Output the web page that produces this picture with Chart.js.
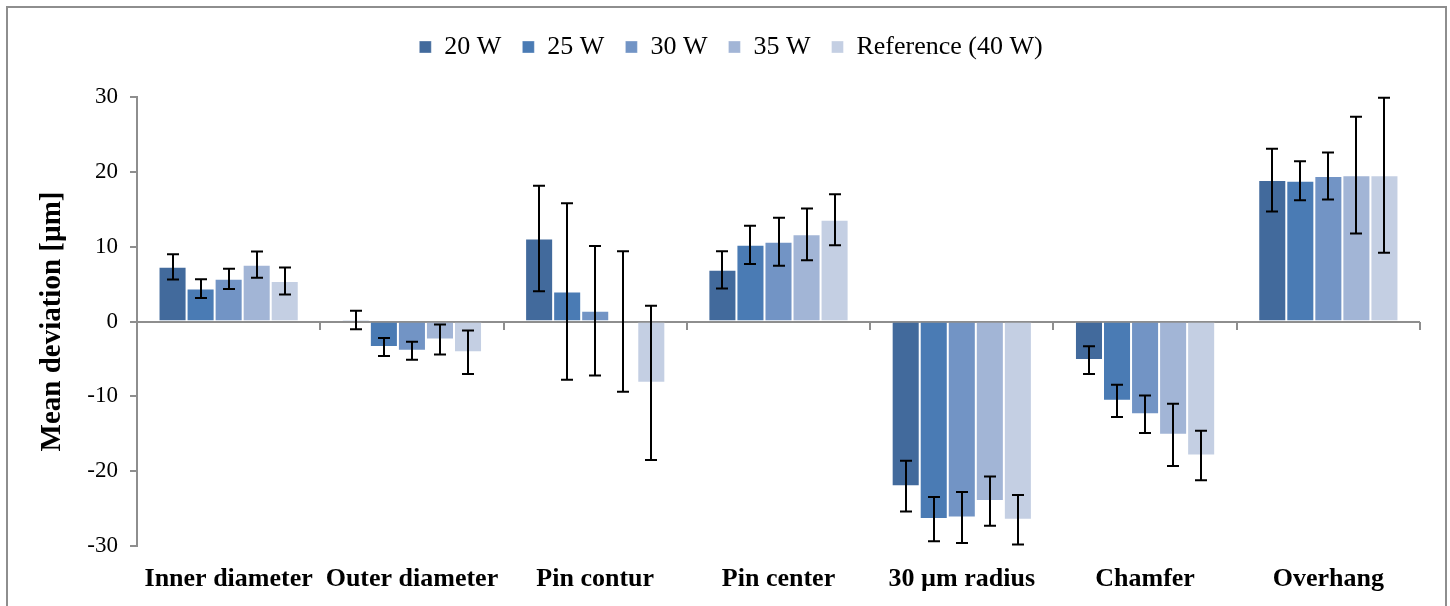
<!DOCTYPE html>
<html>
<head>
<meta charset="utf-8">
<script src="https://cdn.jsdelivr.net/npm/chart.js@4.4.1/dist/chart.umd.min.js"></script>
<style>
  html, body { margin: 0; padding: 0; background: #ffffff; overflow: hidden; }
  #frame { position: absolute; left: 6px; top: 6px; width: 1441px; height: 700px; border: 2px solid #8e8e8e; box-sizing: border-box; }
  #wrap { position: absolute; left: 0; top: 0; width: 1450px; height: 606px; }
</style>
</head>
<body>
<div id="frame"></div>
<div id="wrap"><canvas id="c" width="1450" height="606"></canvas></div>
<script>
const categories = ["Inner diameter", "Outer diameter", "Pin contur", "Pin center", "30 µm radius", "Chamfer", "Overhang"];
const seriesNames = ["20 W", "25 W", "30 W", "35 W", "Reference (40 W)"];
const seriesColors = ["#426a9c", "#4a7bb4", "#7294c5", "#a2b5d6", "#c4cfe3"];

const values20 = [7.3, 0.2, 11.1, 6.9, -22.0, -5.15, 18.9];
const values25 = [4.4, -3.4, 4.0, 10.25, -26.4, -10.6, 18.8];
const values30 = [5.7, -3.9, 1.45, 10.65, -26.2, -12.4, 19.45];
const values35 = [7.6, -2.4, 0.0, 11.65, -24.0, -15.15, 19.55];
const values40 = [5.4, -4.1, -8.2, 13.6, -26.5, -17.9, 19.55];

const errors20 = [1.7, 1.25, 7.05, 2.5, 3.4, 1.85, 4.2];
const errors25 = [1.25, 1.2, 11.8, 2.55, 2.95, 2.15, 2.6];
const errors30 = [1.35, 1.2, 8.65, 3.2, 3.4, 2.5, 3.15];
const errors35 = [1.75, 2.0, 9.4, 3.45, 3.3, 4.15, 7.8];
const errors40 = [1.8, 2.9, 10.3, 3.4, 3.3, 3.3, 10.35];

const yTicks = [-30, -20, -10, 0, 10, 20, 30];
const yTitle = "Mean deviation [µm]";

const allValues = [values20, values25, values30, values35, values40];
const allErrors = [errors20, errors25, errors30, errors35, errors40];

const SERIF = "'Liberation Serif', 'Times New Roman', serif";
const GRAY = "#8e8e8e";

const legendGapPlugin = {
  id: "legendGap",
  beforeLayout(chart) {
    const lg = chart.legend;
    if (lg && !lg._gapPatched) {
      const origFit = lg.fit.bind(lg);
      lg.fit = function () { origFit(); this.height += 27; };
      const origDraw = lg.draw.bind(lg);
      lg.draw = function () {
        const c = this.ctx;
        c.save();
        c.translate(21, 0);
        origDraw();
        c.restore();
      };
      lg._gapPatched = true;
    }
  }
};

const errorBarPlugin = {
  id: "errorBars",
  afterDatasetsDraw(chart) {
    const ctx = chart.ctx;
    const y = chart.scales.y;
    ctx.save();
    ctx.strokeStyle = "#000000";
    ctx.lineWidth = 2;
    chart.data.datasets.forEach((ds, di) => {
      const meta = chart.getDatasetMeta(di);
      meta.data.forEach((bar, i) => {
        const v = ds.data[i];
        const e = ds.errors[i];
        const x = Math.round(bar.x);
        const yt = y.getPixelForValue(v + e);
        const yb = y.getPixelForValue(v - e);
        ctx.beginPath();
        ctx.moveTo(x, yt); ctx.lineTo(x, yb);
        ctx.moveTo(x - 6, yt); ctx.lineTo(x + 6, yt);
        ctx.moveTo(x - 6, yb); ctx.lineTo(x + 6, yb);
        ctx.stroke();
      });
    });
    ctx.restore();
  }
};

const zeroAxisPlugin = {
  id: "zeroAxis",
  beforeDatasetsDraw(chart) {
    const ctx = chart.ctx;
    const y0 = Math.round(chart.scales.y.getPixelForValue(0));
    const area = chart.chartArea;
    ctx.save();
    ctx.strokeStyle = GRAY;
    ctx.lineWidth = 2;
    ctx.beginPath();
    ctx.moveTo(area.left, y0); ctx.lineTo(area.right, y0);
    const n = categories.length;
    for (let i = 0; i <= n; i++) {
      const px = Math.round(area.left + (area.right - area.left) * i / n);
      ctx.moveTo(px, y0); ctx.lineTo(px, y0 + 8);
    }
    ctx.stroke();
    ctx.restore();
  }
};

new Chart(document.getElementById("c"), {
  type: "bar",
  data: {
    labels: categories,
    datasets: seriesNames.map((name, k) => ({
      label: name,
      data: allValues[k],
      errors: allErrors[k],
      backgroundColor: seriesColors[k],
      borderColor: "rgba(255,255,255,0.35)",
      borderWidth: 1,
      categoryPercentage: 0.765,
      barPercentage: 1.0
    }))
  },
  options: {
    responsive: false,
    animation: false,
    devicePixelRatio: 1,
    layout: { padding: { left: 0, right: 30, top: 13, bottom: 0 } },
    plugins: {
      legend: {
        display: true,
        position: "top",
        labels: {
          boxWidth: 12,
          boxHeight: 12,
          padding: 21,
          color: "#000000",
          font: { family: SERIF, size: 26 }
        }
      },
      tooltip: { enabled: false }
    },
    scales: {
      x: {
        position: "bottom",
        grid: { display: false },
        border: { display: false },
        ticks: {
          color: "#000000",
          padding: 10,
          maxRotation: 0,
          autoSkip: false,
          font: { family: SERIF, size: 26, weight: "bold" }
        },
        afterFit(scale) { scale.height = 60; }
      },
      y: {
        min: -30,
        max: 30,
        afterBuildTicks(scale) { scale.ticks = yTicks.map(v => ({ value: v })); },
        grid: {
          drawOnChartArea: false,
          drawTicks: true,
          tickLength: 7,
          color: GRAY,
          lineWidth: 2
        },
        border: { display: true, color: GRAY, width: 2 },
        ticks: {
          color: "#000000",
          padding: 12,
          font: { family: SERIF, size: 23 }
        },
        title: {
          display: true,
          text: yTitle,
          color: "#000000",
          padding: { top: 35, bottom: 0 },
          font: { family: SERIF, size: 29, weight: "bold" }
        },
        afterFit(scale) { scale.width = 137; }
      }
    }
  },
  plugins: [legendGapPlugin, zeroAxisPlugin, errorBarPlugin]
});
</script>
</body>
</html>
